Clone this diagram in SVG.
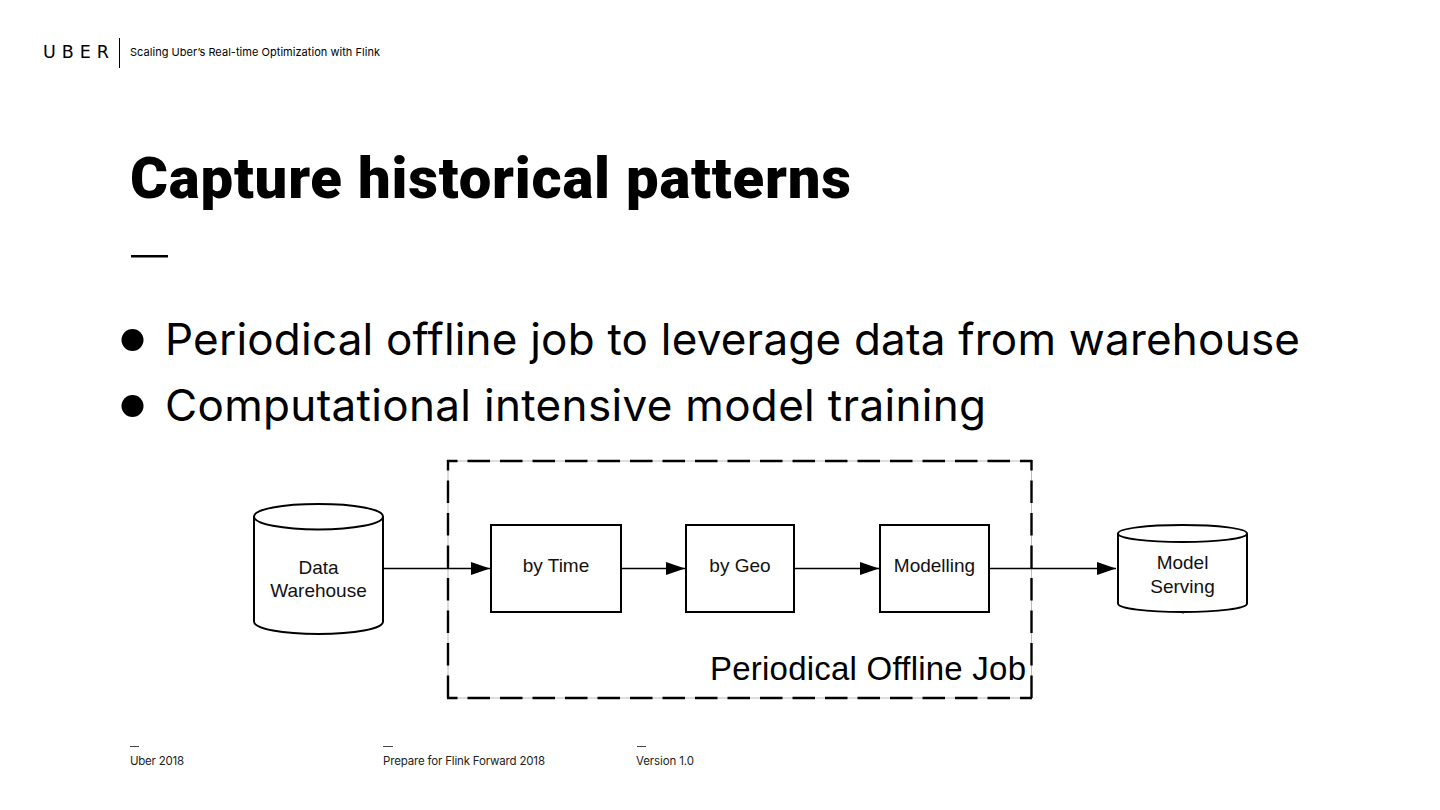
<svg xmlns="http://www.w3.org/2000/svg" width="1440" height="810" viewBox="0 0 1440 810">
<style>
.p{font-family:"Inter","Open Sans","Liberation Sans",sans-serif;fill:#000;font-variant-ligatures:none}
.d{font-family:"Liberation Sans",Arial,sans-serif;fill:#111;font-size:19px;text-anchor:middle}
.s{fill:#fff;stroke:#000;stroke-width:2}
.c{fill:none;stroke:#000;stroke-width:1.5}
.f{font-size:11.5px;fill:#222}
.dash{fill:none;stroke:#000;stroke-width:2.400;stroke-dasharray:22.500 10;stroke-dashoffset:12}
</style>
<defs><marker id="a" markerUnits="userSpaceOnUse" markerWidth="20" markerHeight="13" refX="19" refY="6.500" orient="auto"><path d="M0 0L19 6.500L0 13Z" fill="#000"/></marker></defs>
<rect width="1440" height="810" fill="#fff"/>
<g id="header">
<text x="43" y="58" font-family="'DejaVu Sans',sans-serif" font-size="17.500" textLength="66" lengthAdjust="spacing">UBER</text>
<rect x="119" y="38" width="1" height="30" fill="#000"/>
<text class="p" x="130" y="56" font-size="11" textLength="250" lengthAdjust="spacing">Scaling Uber’s Real-time Optimization with Flink</text>
</g>
<g id="title">
<text x="130" y="198" font-family="Roboto,sans-serif" font-size="58" font-weight="900" style="font-variant-ligatures:none" textLength="721" lengthAdjust="spacing">Capture historical patterns</text>
<rect x="131" y="255" width="37" height="2.500" fill="#000"/>
</g>
<g id="bullets">
<circle cx="132.500" cy="340" r="11" fill="#000"/>
<text class="p" x="165" y="354.500" font-size="44" font-weight="400" textLength="1135" lengthAdjust="spacing">Periodical offline job to leverage data from warehouse</text>
<circle cx="132.500" cy="406" r="11" fill="#000"/>
<text class="p" x="165" y="420.500" font-size="44" font-weight="400" textLength="821" lengthAdjust="spacing">Computational intensive model training</text>
</g>
<g id="group-periodical-offline-job">
<rect x="448" y="461" width="583.500" height="237" fill="none" stroke="#bbb" stroke-width="1"/>
<path class="dash" d="M447 461H1032"/>
<path class="dash" d="M447 698H1032"/>
<path class="dash" d="M448 460V699"/>
<path class="dash" d="M1031.500 460V699"/>
<text x="710" y="680" font-family="'Liberation Sans',Arial,sans-serif" font-size="33" textLength="316" lengthAdjust="spacing">Periodical Offline Job</text>
</g>
<g id="connectors">
<path class="c" d="M384 568.500H490" marker-end="url(#a)"/>
<path class="c" d="M621 568.500H685" marker-end="url(#a)"/>
<path class="c" d="M795 568.500H879" marker-end="url(#a)"/>
<path class="c" d="M989 568.500H1116" marker-end="url(#a)"/>
</g>
<g id="data-warehouse">
<path class="s" d="M254 516.500V621.500C254 629 283 634 318.500 634S383 629 383 621.500V516.500C383 509 354 504 318.500 504S254 509 254 516.500C254 524 283 529.500 318.500 529.500S383 524 383 516.500"/>
<text class="d" x="318.500" y="574">Data</text>
<text class="d" x="318.500" y="597">Warehouse</text>
</g>
<g id="by-time"><rect class="s" x="491" y="525" width="130" height="87"/><text class="d" x="556" y="572">by Time</text></g>
<g id="by-geo"><rect class="s" x="686" y="525" width="108" height="87"/><text class="d" x="740" y="572">by Geo</text></g>
<g id="modelling"><rect class="s" x="880" y="525" width="109" height="87"/><text class="d" x="934.500" y="572">Modelling</text></g>
<g id="model-serving">
<path class="s" d="M1118 533.500V603.500C1118 608.500 1147 612 1182.500 612S1247 608.500 1247 603.500V533.500C1247 528.500 1218 525 1182.500 525S1118 528.500 1118 533.500C1118 538.500 1147 542 1182.500 542S1247 538.500 1247 533.500"/>
<path d="M1183 612V614" stroke="#333" stroke-width="1" fill="none"/>
<text class="d" x="1182.500" y="569">Model</text>
<text class="d" x="1182.500" y="593">Serving</text>
</g>
<g id="footer">
<rect x="130" y="746" width="9" height="1" fill="#444"/>
<text class="p f" x="130" y="765" textLength="54" lengthAdjust="spacing">Uber 2018</text>
<rect x="383" y="746" width="10" height="1" fill="#444"/>
<text class="p f" x="383" y="765" textLength="162" lengthAdjust="spacing">Prepare for Flink Forward 2018</text>
<rect x="637" y="746" width="9" height="1" fill="#444"/>
<text class="p f" x="636" y="765" textLength="58" lengthAdjust="spacing">Version 1.0</text>
</g>
</svg>
